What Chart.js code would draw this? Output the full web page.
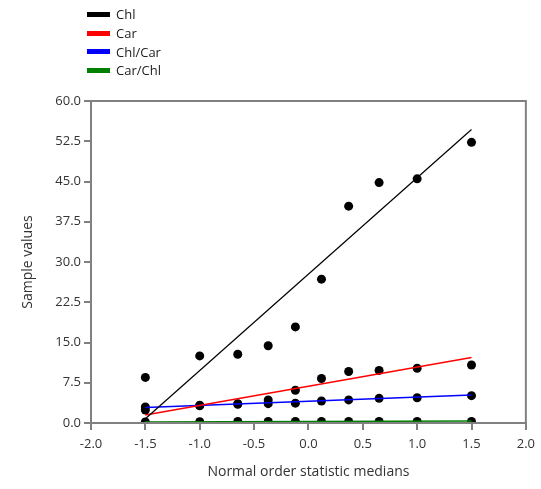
<!DOCTYPE html>
<html>
<head>
<meta charset="utf-8">
<script src="https://cdn.jsdelivr.net/npm/chart.js@4"></script>
<style>
  body { margin: 0; background: #fff; }
  #wrap { position: relative; width: 541px; height: 489px; }
  #legenda { position: absolute; left: 87px; top: 5px; font-family: "Open Sans", sans-serif; font-size: 13px; color: #222; }
  .item { height: 18.7px; line-height: 18px; display: flex; align-items: center; }
  .swatch { width: 23px; height: 5px; margin-right: 6px; }
</style>
</head>
<body>
<div id="wrap">
  <canvas id="grafico" width="541" height="489"></canvas>
  <div id="legenda"></div>
</div>
<script>
// normal order statistic medians (x)
const medianas = [-1.5, -1.0, -0.65, -0.37, -0.12, 0.12, 0.37, 0.65, 1.0, 1.5];

// sample values
const chl    = [8.5, 12.5, 12.8, 14.4, 17.9, 26.8, 40.4, 44.8, 45.5, 52.3];
const car    = [2.4, 3.2, 3.5, 4.3, 6.1, 8.3, 9.6, 9.8, 10.2, 10.8];
const chlCar = [3.0, 3.3, 3.6, 3.6, 3.7, 4.1, 4.3, 4.6, 4.7, 5.1];
const carChl = [0.2, 0.25, 0.27, 0.28, 0.3, 0.3, 0.3, 0.3, 0.3, 0.3];

// fitted lines, endpoints at x = -1.5 and 1.5
const linhaX      = [-1.5, 1.5];
const linhaChl    = [0.8, 54.7];
const linhaCar    = [1.5, 12.2];
const linhaChlCar = [2.9, 5.2];
const linhaCarChl = [0.2, 0.35];

const nomes = ["Chl", "Car", "Chl/Car", "Car/Chl"];
const cores = ["#000000", "#ff0000", "#0000ff", "#008000"];

const yTicks = [0, 7.5, 15, 22.5, 30, 37.5, 45, 52.5, 60];

function pontos(xs, ys) {
  return xs.map((x, i) => ({ x: x, y: ys[i] }));
}

const series = [chl, car, chlCar, carChl];
const linhas = [linhaChl, linhaCar, linhaChlCar, linhaCarChl];

let datasets = [];
for (let i = 0; i < 4; i++) {
  datasets.push({
    label: nomes[i],
    data: pontos(medianas, series[i]),
    showLine: false,
    pointRadius: 4.5,
    pointBackgroundColor: "#000",
    pointBorderWidth: 0,
    order: 1
  });
}
for (let i = 0; i < 4; i++) {
  datasets.push({
    label: nomes[i] + " linha",
    data: pontos(linhaX, linhas[i]),
    showLine: true,
    borderColor: cores[i],
    borderWidth: i == 0 ? 1.2 : 1.5,
    pointRadius: 0,
    order: 0
  });
}

const caixa = {
  id: "caixa",
  afterDraw(chart) {
    const a = chart.chartArea;
    const ctx = chart.ctx;
    ctx.save();
    ctx.strokeStyle = "#808080";
    ctx.lineWidth = 2;
    ctx.strokeRect(a.left, a.top, a.right - a.left, a.bottom - a.top);
    ctx.restore();
  }
};

const fonte = "'Open Sans', sans-serif";

new Chart(document.getElementById("grafico"), {
  type: "scatter",
  data: { datasets: datasets },
  options: {
    responsive: false,
    animation: false,
    layout: { padding: { top: 101, right: 14, left: 0, bottom: 0 } },
    plugins: { legend: { display: false }, tooltip: { enabled: false } },
    scales: {
      x: {
        min: -2, max: 2,
        afterFit: s => { s.height = 66; },
        ticks: { stepSize: 0.5, color: "#333", font: { family: fonte, size: 13 }, padding: 6,
          callback: v => v.toFixed(1) },
        grid: { drawOnChartArea: false, tickLength: 7, color: "#808080", lineWidth: 2 },
        border: { color: "#808080", width: 2 },
        title: { display: true, text: "Normal order statistic medians", color: "#333",
          font: { family: fonte, size: 14 }, padding: { top: 0, bottom: 9 } }
      },
      y: {
        min: 0, max: 60,
        afterFit: s => { s.width = 91; },
        afterBuildTicks: s => { s.ticks = yTicks.map(v => ({ value: v })); },
        ticks: { color: "#333", font: { family: fonte, size: 13 }, padding: 3,
          callback: v => v.toFixed(1) },
        grid: { drawOnChartArea: false, tickLength: 7, color: "#808080", lineWidth: 2 },
        border: { color: "#808080", width: 2 },
        title: { display: true, text: "Sample values", color: "#333",
          font: { family: fonte, size: 14 }, padding: { top: 20, bottom: 0 } }
      }
    }
  },
  plugins: [caixa]
});

// legend
const leg = document.getElementById("legenda");
for (let i = 0; i < nomes.length; i++) {
  leg.innerHTML += '<div class="item"><span class="swatch" style="background:' + cores[i] + '"></span>' + nomes[i] + '</div>';
}
</script>
</body>
</html>
